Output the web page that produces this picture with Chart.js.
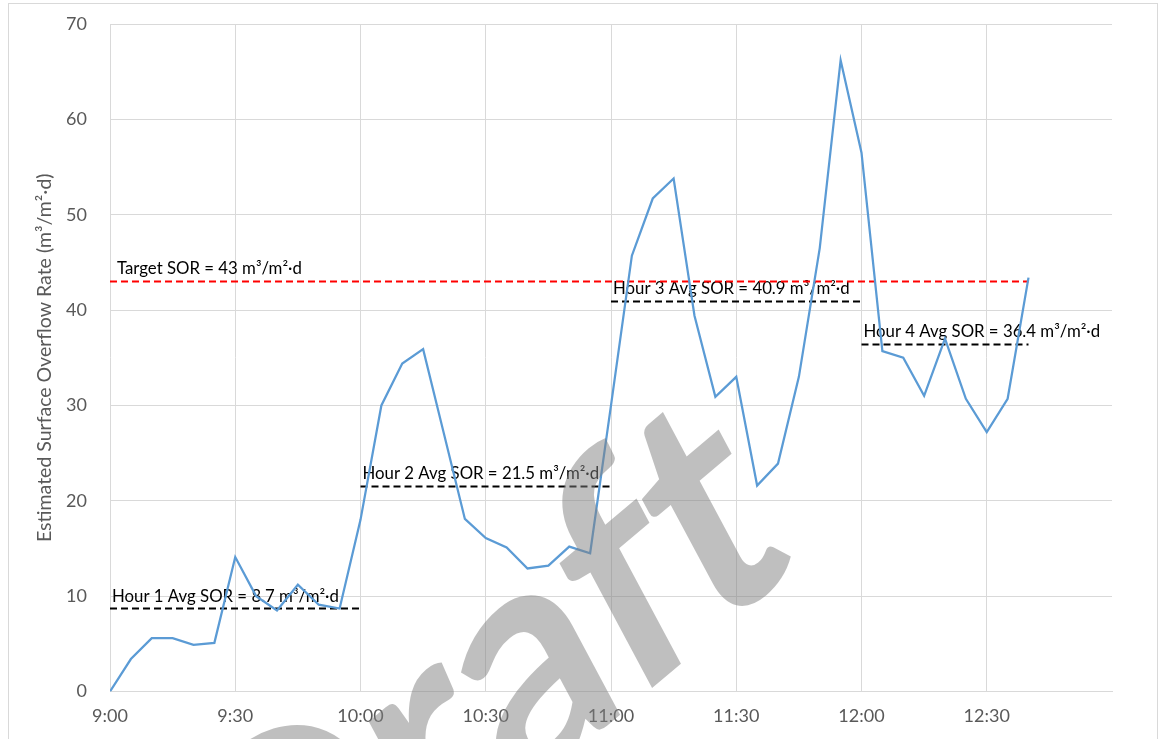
<!DOCTYPE html>
<html>
<head>
<meta charset="utf-8">
<script src="https://cdn.jsdelivr.net/npm/chart.js@4"></script>
<style>
  html, body { margin: 0; padding: 0; background: #ffffff; }
  #wrap { width: 1162px; height: 739px; }
</style>
</head>
<body>
<div id="wrap"><canvas id="c" width="1162" height="739"></canvas></div>
<script>
// Sample times (5-minute readings)
const times = [
  '9:00','9:05','9:10','9:15','9:20','9:25','9:30','9:35','9:40','9:45','9:50','9:55',
  '10:00','10:05','10:10','10:15','10:20','10:25','10:30','10:35','10:40','10:45','10:50','10:55',
  '11:00','11:05','11:10','11:15','11:20','11:25','11:30','11:35','11:40','11:45','11:50','11:55',
  '12:00','12:05','12:10','12:15','12:20','12:25','12:30','12:35','12:40'
];

// Estimated surface overflow rate, m3/m2·d
const sor = [
  0, 3.4, 5.6, 5.6, 4.9, 5.1, 14.1, 10.0, 8.5, 11.2, 9.1, 8.7,
  18.0, 30.0, 34.4, 35.9, 27.0, 18.1, 16.1, 15.1, 12.9, 13.2, 15.2, 14.5,
  30.0, 45.7, 51.7, 53.8, 39.4, 30.9, 33.0, 21.6, 23.9, 33.0, 46.5, 66.2,
  56.5, 35.7, 35.0, 31.0, 37.0, 30.7, 27.2, 30.7, 43.4
];

// Design target
const targetSOR = 43;
const targetText = 'Target SOR = 43 m\u00B3/m\u00B2\u00B7d';

// Hourly averages
const hourAvg = [8.7, 21.5, 40.9, 36.4];
const hourStart = ['9:00', '10:00', '11:00', '12:00'];
const hourEnd = ['10:00', '11:00', '12:00', '12:40'];
const hourText = [
  'Hour 1 Avg SOR = 8.7 m\u00B3/m\u00B2\u00B7d',
  'Hour 2 Avg SOR = 21.5 m\u00B3/m\u00B2\u00B7d',
  'Hour 3 Avg SOR = 40.9 m\u00B3/m\u00B2\u00B7d',
  'Hour 4 Avg SOR = 36.4 m\u00B3/m\u00B2\u00B7d'
];

// Axis settings
const xStart = '9:00';
const xEnd = '13:00';
const xStepMin = 30;
const yMin = 0, yMax = 70, yStep = 10;
const yTitle = 'Estimated Surface Overflow Rate (m\u00B3/m\u00B2\u00B7d)';
const stampText = 'Draft';

const toMin = t => { const [h, m] = t.split(':').map(Number); return h * 60 + m; };
const fmtMin = v => { const h = Math.floor(v / 60), m = Math.round(v % 60); return h + ':' + String(m).padStart(2, '0'); };

const FONT = 'Lato, "Open Sans", sans-serif';
const GRID = '#d9d9d9';
const TICK = '#595959';

const datasets = [
  {
    label: 'SOR',
    data: times.map((t, i) => ({ x: toMin(t), y: sor[i] })),
    borderColor: '#5B9BD5',
    borderWidth: 2.25,
    pointRadius: 0,
    tension: 0,
    fill: false
  },
  {
    label: 'Target',
    data: [{ x: toMin(times[0]), y: targetSOR }, { x: toMin(times[times.length - 1]), y: targetSOR }],
    borderColor: '#FF0000',
    borderWidth: 2,
    borderDash: [7, 4],
    pointRadius: 0,
    fill: false
  }
];
hourAvg.forEach((v, i) => {
  datasets.push({
    label: hourText[i],
    data: [{ x: toMin(hourStart[i]), y: v }, { x: toMin(hourEnd[i]), y: v }],
    borderColor: '#000000',
    borderWidth: 2,
    borderDash: [7, 4],
    pointRadius: 0,
    fill: false
  });
});

// Frame around the chart
const framePlugin = {
  id: 'frame',
  beforeDraw(chart) {
    const ctx = chart.ctx;
    ctx.save();
    ctx.fillStyle = '#ffffff';
    ctx.fillRect(0, 0, chart.width, chart.height);
    ctx.strokeStyle = GRID;
    ctx.lineWidth = 1;
    ctx.strokeRect(8.5, 3.5, 1149, 800);
    ctx.restore();
  }
};

// Text labels sitting on the reference lines
const refTextPlugin = {
  id: 'refText',
  beforeDatasetsDraw(chart) {
    const { ctx, scales: { x, y } } = chart;
    ctx.save();
    ctx.font = '16.8px ' + FONT;
    ctx.fillStyle = '#000000';
    ctx.textAlign = 'left';
    ctx.textBaseline = 'alphabetic';
    ctx.fillText(targetText, x.getPixelForValue(toMin(times[0])) + 7, y.getPixelForValue(targetSOR) - 7);
    hourAvg.forEach((v, i) => {
      ctx.fillText(hourText[i], x.getPixelForValue(toMin(hourStart[i])) + 2, y.getPixelForValue(v) - 7);
    });
    ctx.restore();
  }
};

// Translucent slanted stamp across the plot, set letter by letter
const stampPlugin = {
  id: 'stamp',
  afterDraw(chart) {
    const ctx = chart.ctx;
    const ang = -40 * Math.PI / 180;
    const slant = -0.21;
    const track = 0.97;
    const c = Math.cos(ang), s = Math.sin(ang);
    ctx.save();
    ctx.font = 'bold 305px ' + FONT;
    ctx.fillStyle = 'rgba(128,128,128,0.5)';
    ctx.textAlign = 'left';
    ctx.textBaseline = 'alphabetic';
    const chars = stampText.split('');
    const adv = chars.map(ch => ctx.measureText(ch).width * track);
    const total = adv.reduce((a, b) => a + b, 0);
    ctx.setTransform(c, s, slant * c - s, slant * s + c, 795, 568);
    let pos = -total;
    chars.forEach((ch, i) => { ctx.fillText(ch, pos, 0); pos += adv[i]; });
    ctx.restore();
  }
};

new Chart(document.getElementById('c'), {
  type: 'line',
  data: { datasets },
  plugins: [framePlugin, refTextPlugin, stampPlugin],
  options: {
    responsive: false,
    animation: false,
    devicePixelRatio: 1,
    layout: { padding: { left: 0, top: 24, right: 50, bottom: 0 } },
    plugins: { legend: { display: false }, tooltip: { enabled: false } },
    scales: {
      x: {
        type: 'linear',
        min: toMin(xStart),
        max: toMin(xEnd),
        afterFit: s => { s.height = 47.5; s.paddingLeft = 0; s.paddingRight = 0; },
        ticks: {
          stepSize: xStepMin,
          color: TICK,
          font: { family: FONT, size: 18 },
          padding: 14,
          maxRotation: 0,
          autoSkip: false,
          callback: v => (v >= toMin(xEnd) ? '' : fmtMin(v))
        },
        grid: {
          color: c => (c.tick && c.tick.value >= toMin(xEnd) ? 'rgba(0,0,0,0)' : GRID),
          lineWidth: 1,
          drawTicks: false
        },
        border: { display: true, color: GRID, width: 1 }
      },
      y: {
        min: yMin,
        max: yMax,
        afterFit: s => { s.width = 110; s.paddingTop = 0; s.paddingBottom = 0; },
        ticks: {
          stepSize: yStep,
          color: TICK,
          font: { family: FONT, size: 18 },
          padding: 23
        },
        grid: { color: GRID, lineWidth: 1, drawTicks: false },
        border: { display: false },
        title: {
          display: true,
          text: yTitle,
          color: TICK,
          font: { family: FONT, size: 19.5 },
          padding: { top: 33, bottom: 0 }
        }
      }
    }
  }
});
</script>
</body>
</html>
